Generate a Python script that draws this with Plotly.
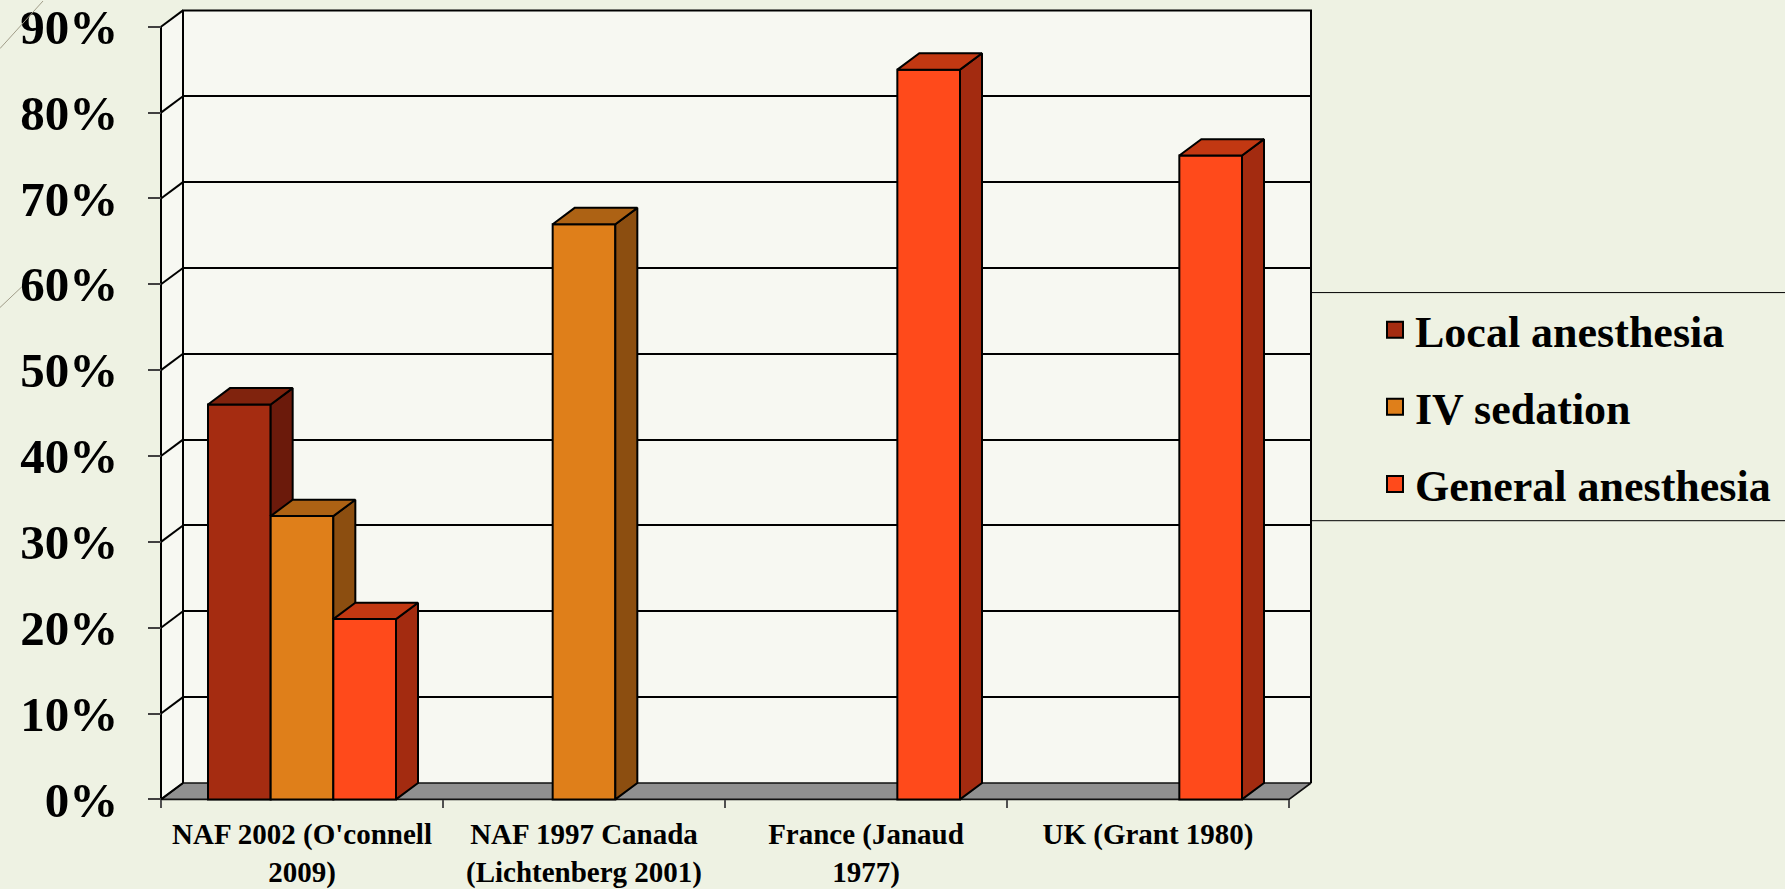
import plotly.graph_objects as go

# ---------------- data ----------------
categories = ["NAF 2002 (O'connell<br>2009)", "NAF 1997 Canada<br>(Lichtenberg 2001)",
              "France (Janaud<br>1977)", "UK (Grant 1980)"]
series_names = ["Local anesthesia", "IV sedation", "General anesthesia"]
local_anesthesia = [46, None, None, None]
iv_sedation = [33, 67, None, None]
general_anesthesia = [21, None, 85, 75]
y_tick_values = [0, 10, 20, 30, 40, 50, 60, 70, 80, 90]

# ---------------- styles ----------------
front_colors = ["#A52C11", "#DF7F1A", "#FF4A1B"]
top_colors = ["#80230D", "#AD6214", "#C23812"]
side_colors = ["#6B1A0B", "#8C4E10", "#A32B10"]
FONT = "Liberation Serif"
PAPER_BG = "#EEF2E3"
WALL_BG = "#F7F8F2"
FLOOR = "#909090"

W, H = 1785, 889
H_EFF = 875.2      # effective vertical extent of the paper in the captured picture
XPU = 282.0        # pixels per category
YPU = 8.656        # pixels per percent
X_FRONT = 161.0    # pixel of x=-0.5
Y_ZERO = 805.0     # pixel of y=0
X_RANGE = [-0.6, 3.65]
Y_RANGE = [-1.5, 92.9]
DX = 22.0 / XPU
DY = 16.5 / YPU
YMAX = 90
n_cat = len(categories)
n_ser = len(series_names)
BARGAP = 1 / 3
BW = (1 - BARGAP) / n_ser


def xpx(v):
    return X_FRONT + (v + 0.5) * XPU


def ypx(v):
    return Y_ZERO - v * YPU


def fx(px):
    return px / W


def fy(px):
    return 1 - px / H_EFF


main_xdom = [fx(xpx(X_RANGE[0])), fx(xpx(X_RANGE[1]))]
main_ydom = [fy(ypx(Y_RANGE[0])), fy(ypx(Y_RANGE[1]))]
wall_xdom = [fx(xpx(-0.5 + DX)), fx(xpx(n_cat - 0.5 + DX))]
wall_ydom = [fy(ypx(DY)), fy(ypx(YMAX + DY))]

fig = go.Figure()
XL, XR = -0.5, n_cat - 0.5

# ---- base subplot (x, y): wall fills and floor ----
fig.add_trace(go.Scatter(
    x=[XL + DX, XR + DX, XR + DX, XL + DX, XL + DX],
    y=[DY, DY, YMAX + DY, YMAX + DY, DY],
    fill="toself", fillcolor=WALL_BG, mode="lines", line=dict(width=0),
    hoverinfo="skip", showlegend=False, xaxis="x", yaxis="y"))
fig.add_trace(go.Scatter(
    x=[XL, XL + DX, XL + DX, XL, XL],
    y=[0, DY, YMAX + DY, YMAX, 0],
    fill="toself", fillcolor=WALL_BG, mode="lines", line=dict(width=0),
    hoverinfo="skip", showlegend=False, xaxis="x", yaxis="y"))
fig.add_trace(go.Scatter(
    x=[XL, XR, XR + DX, XL + DX, XL],
    y=[0, 0, DY, DY, 0],
    fill="toself", fillcolor=FLOOR, mode="lines", line=dict(color="#111111", width=1.6),
    hoverinfo="skip", showlegend=False, xaxis="x", yaxis="y"))

# ---- back wall subplot (x2, y2): gridlines ----
fig.add_trace(go.Scatter(x=[None], y=[None], showlegend=False, hoverinfo="skip",
                         xaxis="x2", yaxis="y2"))

# ---- main subplot (x3, y3) ----
series_values = [local_anesthesia, iv_sedation, general_anesthesia]
for k in range(n_ser):
    fig.add_trace(go.Bar(
        x=list(range(n_cat)), y=series_values[k], name=series_names[k],
        marker=dict(color=front_colors[k], line=dict(color="#000000", width=2)),
        showlegend=False, legendgroup=series_names[k],
        xaxis="x3", yaxis="y3"))

# frame lines
fx_, fy_ = [], []
for t in y_tick_values:
    fx_ += [XL, XL + DX, None]
    fy_ += [t, t + DY, None]
fx_ += [XL, XL, None, XL + DX, XL + DX, XR + DX, XR + DX, None]
fy_ += [0, YMAX, None, DY, YMAX + DY, YMAX + DY, DY, None]
fig.add_trace(go.Scatter(x=fx_, y=fy_, mode="lines", line=dict(color="#000000", width=2),
                         hoverinfo="skip", showlegend=False, xaxis="x3", yaxis="y3"))

# 3D faces of the bars
for i in range(n_cat):
    for k in range(n_ser):
        v = series_values[k][i]
        if v is None:
            continue
        xl = i - (1 - BARGAP) / 2 + k * BW
        xr = xl + BW
        nxt = series_values[k + 1][i] if k + 1 < n_ser else None
        lo_f = nxt if nxt is not None else 0
        lo_b = nxt if nxt is not None else DY
        fig.add_trace(go.Scatter(
            x=[xr, xr, xr + DX, xr + DX, xr], y=[lo_f, v, v + DY, lo_b, lo_f],
            fill="toself", fillcolor=side_colors[k], mode="lines",
            line=dict(color="#000000", width=2), hoverinfo="skip", showlegend=False,
            xaxis="x3", yaxis="y3"))
        fig.add_trace(go.Scatter(
            x=[xl, xr, xr + DX, xl + DX, xl], y=[v, v, v + DY, v + DY, v],
            fill="toself", fillcolor=top_colors[k], mode="lines",
            line=dict(color="#000000", width=2), hoverinfo="skip", showlegend=False,
            xaxis="x3", yaxis="y3"))

# legend entries
for k in range(n_ser):
    fig.add_trace(go.Scatter(
        x=[None], y=[None], mode="markers", name=series_names[k],
        legendgroup=series_names[k],
        marker=dict(symbol="square", size=22, color=front_colors[k],
                    line=dict(color="#000000", width=2)),
        xaxis="x3", yaxis="y3"))

hidden = dict(visible=False)
fig.update_layout(
    width=W, height=H,
    margin=dict(l=0, r=0, t=0, b=0),
    paper_bgcolor=PAPER_BG, plot_bgcolor="rgba(0,0,0,0)",
    barmode="group", bargap=BARGAP, bargroupgap=0,
    font=dict(family=FONT, color="#000000"),
    xaxis=dict(domain=main_xdom, range=X_RANGE, anchor="y", **hidden),
    yaxis=dict(domain=main_ydom, range=Y_RANGE, anchor="x", **hidden),
    xaxis2=dict(domain=wall_xdom, range=[0, 1], anchor="y2", showgrid=False,
                zeroline=False, showticklabels=False, ticks="", showline=False),
    yaxis2=dict(domain=wall_ydom, range=[0, YMAX], anchor="x2", tickvals=y_tick_values,
                showgrid=True, gridcolor="#000000", gridwidth=2, zeroline=False,
                showticklabels=False, ticks="", showline=False),
    xaxis3=dict(domain=main_xdom, range=X_RANGE, anchor="free",
                position=fy(Y_ZERO), showgrid=False, zeroline=False, showline=False,
                tickvals=list(range(n_cat)), ticktext=categories, ticks="",
                ticklabelstandoff=15, ticklabeloverflow="allow",
                tickfont=dict(family=FONT, size=29, weight="bold", color="#000000"),
                minor=dict(tickvals=[c - 0.5 for c in range(n_cat + 1)], ticks="outside",
                           ticklen=8, tickwidth=1.5, tickcolor="#505050", showgrid=False)),
    yaxis3=dict(domain=main_ydom, range=Y_RANGE, anchor="free",
                position=fx(X_FRONT), showgrid=False, zeroline=False, showline=False,
                tickvals=y_tick_values, ticktext=[f"{t}%" for t in y_tick_values],
                ticks="outside", ticklen=13, tickwidth=1.5, tickcolor="#404040",
                ticklabelstandoff=20, ticklabeloverflow="allow",
                tickfont=dict(family=FONT, size=49, weight="bold", color="#000000")),
    legend=dict(x=fx(1375), y=fy(296), xanchor="left", yanchor="top",
                bgcolor="rgba(0,0,0,0)", borderwidth=0, tracegroupgap=17,
                font=dict(family=FONT, size=44, weight="bold", color="#000000")),
    shapes=[
        dict(type="rect", xref="paper", yref="paper", x0=fx(1311), x1=1.02,
             y0=fy(524), y1=fy(294), line=dict(color="#000000", width=1),
             fillcolor="rgba(0,0,0,0)"),
        dict(type="line", xref="paper", yref="paper", x0=0, y0=fy(48), x1=fx(43), y1=fy(0),
             line=dict(color="#A09C88", width=1)),
        dict(type="line", xref="paper", yref="paper", x0=0, y0=fy(309), x1=fx(22), y1=fy(288),
             line=dict(color="#A09C88", width=1)),
    ],
)

fig.write_html("out.html")
